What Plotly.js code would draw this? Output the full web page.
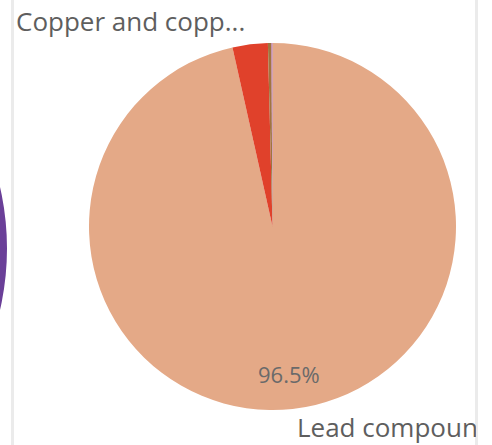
<!DOCTYPE html>
<html>
<head>
<meta charset="utf-8">
<script src="https://cdn.plot.ly/plotly-3.0.1.min.js"></script>
<style>html,body{margin:0;padding:0;background:#fff;}#chart{width:492px;height:445px;}</style>
</head>
<body>
<div id="chart"></div>
<script>
const categories = ['Lead compounds', 'Copper and copper compounds', 'Other compounds A', 'Other compounds B'];
const values = [96.5, 3.1, 0.3, 0.1];
const sliceColors = ['#E4A987', '#E0412B', '#A0753F', '#B872A8'];
const titleText = 'Copper and copp...';
const legendLabel = 'Lead compoun';

const W = 492, H = 445;
const cx = 272.5, cy = 226.5, r = 183.5;

const data = [{
  type: 'pie',
  labels: categories,
  values: values,
  sort: false,
  direction: 'clockwise',
  rotation: 0,
  marker: {colors: sliceColors, line: {width: 0}},
  textinfo: 'none',
  hoverinfo: 'none',
  showlegend: false,
  domain: {x: [(cx - r) / W, (cx + r) / W], y: [1 - (cy + r) / H, 1 - (cy - r) / H]}
}];

// percent label for the largest slice, placed along its mid angle
const total = values.reduce((a, b) => a + b, 0);
const midFrac = (values[0] / 2) / total;
const ang = midFrac * 2 * Math.PI; // clockwise from 12 o'clock
const rl = 0.81 * r;
const lx = cx + rl * Math.sin(ang), ly = cy - rl * Math.cos(ang);
const pctText = (values[0] / total * 100).toFixed(1) + '%';

const pR = 273.6, pcx = -266.6, pcy = 248.5;
const layout = {
  width: W, height: H,
  margin: {l: 0, r: 0, t: 0, b: 0},
  paper_bgcolor: '#ffffff',
  showlegend: false,
  title: {
    text: titleText,
    x: 16 / W, xanchor: 'left', xref: 'paper',
    y: 1 - 22 / H, yanchor: 'middle', yref: 'paper',
    font: {family: 'Open Sans, sans-serif', size: 26, color: '#5E5E5E'}
  },
  shapes: [
    {type: 'circle', xref: 'paper', yref: 'paper', layer: 'below',
     x0: (pcx - pR) / W, x1: (pcx + pR) / W, y0: 1 - (pcy + pR) / H, y1: 1 - (pcy - pR) / H,
     fillcolor: '#6A3F98', line: {width: 0}},
    {type: 'rect', xref: 'paper', yref: 'paper', layer: 'below',
     x0: 11 / W, x1: 14 / W, y0: 0, y1: 1, fillcolor: '#EBEBEB', line: {width: 0}},
    {type: 'rect', xref: 'paper', yref: 'paper', layer: 'below',
     x0: 475 / W, x1: 478 / W, y0: 0, y1: 1, fillcolor: '#EBEBEB', line: {width: 0}}
  ],
  annotations: [{
    text: legendLabel, showarrow: false, xref: 'paper', yref: 'paper',
    x: 296 / W, xanchor: 'left', y: 1 - 427 / H, yanchor: 'middle',
    width: 179, align: 'left', borderpad: 0,
    font: {family: 'Open Sans, sans-serif', size: 26, color: '#5E5E5E'}
  }, {
    text: pctText, showarrow: false, xref: 'paper', yref: 'paper',
    x: lx / W, xanchor: 'center', y: 1 - ly / H, yanchor: 'middle',
    font: {family: 'Open Sans, sans-serif', size: 22, color: '#6A6A6A'}
  }]
};

Plotly.newPlot('chart', data, layout, {displayModeBar: false, staticPlot: true});
</script>
</body>
</html>
